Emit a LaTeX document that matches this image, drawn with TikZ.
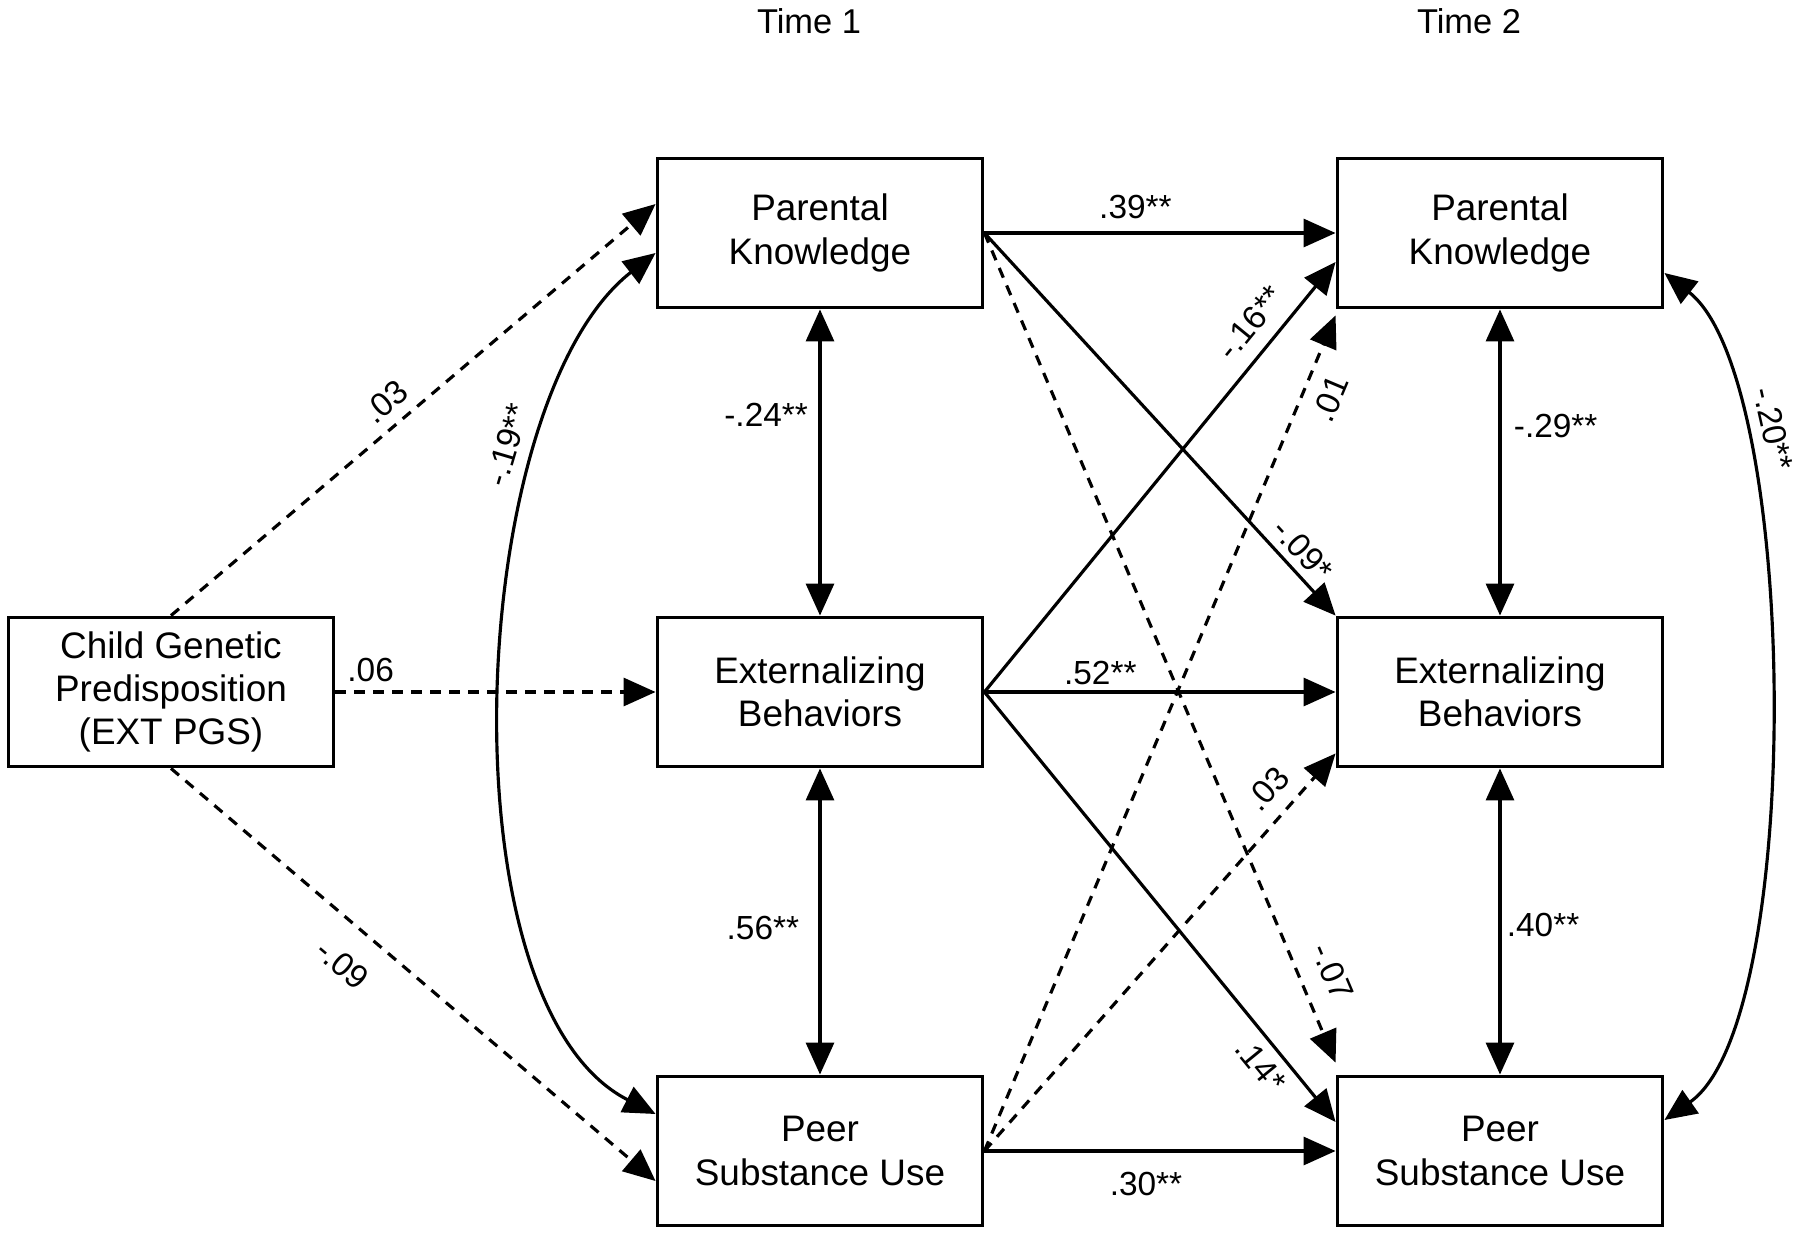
\documentclass[tikz,border=0pt]{standalone}
\usepackage{fontspec}
\setmainfont{Liberation Sans}
\usepackage{tikz}
\usetikzlibrary{arrows.meta,calc}

\begin{document}
\begin{tikzpicture}[x=1cm,y=1cm,
  var/.style={draw,line width=1.1pt,minimum width=3.25cm,minimum height=1.49cm,align=center,inner sep=0pt,font=\fontsize{10.5}{12.3}\selectfont},
  coef/.style={font=\fontsize{9.5}{11}\selectfont,inner sep=1.5pt},
  eff/.style={line width=0.9pt,-{Triangle[length=3.2mm,width=2.8mm]}},
  ns/.style={eff,dash pattern=on 1.05mm off 0.85mm},
  cov/.style={line width=0.9pt,{Triangle[length=3.2mm,width=2.8mm]}-{Triangle[length=3.2mm,width=2.8mm]}}]
\useasboundingbox (0,0) rectangle (18,12.34);
\node[coef,font=\fontsize{9.8}{11}\selectfont] (time1) at (8.09,12.13) {Time 1};
\node[coef,font=\fontsize{9.8}{11}\selectfont] (time2) at (14.69,12.13) {Time 2};
\node[var] (cgp) at (1.71,5.42) {Child Genetic\\Predisposition\\(EXT PGS)};
\foreach \c/\x in {1/8.20,2/15.00} {
   \node[var] (pk\c) at (\x,10.01) {Parental\\Knowledge};
   \node[var] (eb\c) at (\x,5.42) {Externalizing\\Behaviors};
   \node[var] (psu\c) at (\x,0.83) {Peer\\Substance Use};
}
\coordinate (pkin) at ($(pk2.south west)+(0,-0.06)$);
\coordinate (psuin) at ($(psu2.north west)+(0,0.12)$);
\draw[ns] (cgp.north) -- ($(pk1.west)+(0,0.29)$) node[coef,pos=0.475,sloped,above=1.5pt]{.03};
\draw[ns] (cgp.east) -- (eb1.west) node[coef,pos=0.11,above=1pt]{.06};
\draw[ns] (cgp.south) -- ($(psu1.west)+(0,-0.30)$) node[coef,pos=0.405,sloped,below=5.5pt]{-.09};
\draw[cov] ($(pk1.west)+(0,-0.20)$) to[out=218,in=153,looseness=0.72] node[coef,pos=0.27,sloped,above=4pt]{-.19**} ($(psu1.west)+(0,0.37)$);
\draw[cov] (pk1) -- (eb1) node[coef,pos=0.345,left=1.5pt]{-.24**};
\draw[cov] (eb1) -- (psu1) node[coef,pos=0.52,left=4pt]{.56**};
\draw[eff] (pk1.east) -- (pk2.west) node[coef,pos=0.43,above=2pt]{.39**};
\draw[eff] (pk1.east) -- (eb2.north west) node[coef,pos=0.865,sloped,above=0.5pt]{-.09*};
\draw[ns] (pk1.east) -- (psuin) node[coef,pos=0.906,sloped,above=4pt]{-.07};
\draw[eff] (eb1.east) -- ($(pk2.west)+(0,-0.29)$) node[coef,pos=0.818,sloped,above=2.5pt]{-.16**};
\draw[eff] (eb1.east) -- (eb2.west) node[coef,pos=0.33,above]{.52**};
\draw[eff] (eb1.east) -- ($(psu2.west)+(0,0.29)$) node[coef,pos=0.835,sloped,below=1pt]{.14*};
\draw[ns] (psu1.east) -- (pkin) node[coef,pos=0.913,sloped,below=2.5pt]{.01};
\draw[ns] (psu1.east) -- ($(eb2.south west)+(0,0.15)$) node[coef,pos=0.865,sloped,above=2.5pt]{.03};
\draw[eff] (psu1.east) -- (psu2.west) node[coef,pos=0.46,below=4pt]{.30**};
\draw[cov] (pk2) -- (eb2) node[coef,pos=0.38,right=2pt]{-.29**};
\draw[cov] (eb2) -- (psu2) node[coef,pos=0.51,right]{.40**};
\draw[cov] ($(pk2.east)+(0,-0.40)$) to[out=-38,in=35,looseness=0.52] node[coef,pos=0.25,sloped,above=4pt]{-.20**} ($(psu2.east)+(0,0.31)$);
\end{tikzpicture}
\end{document}
